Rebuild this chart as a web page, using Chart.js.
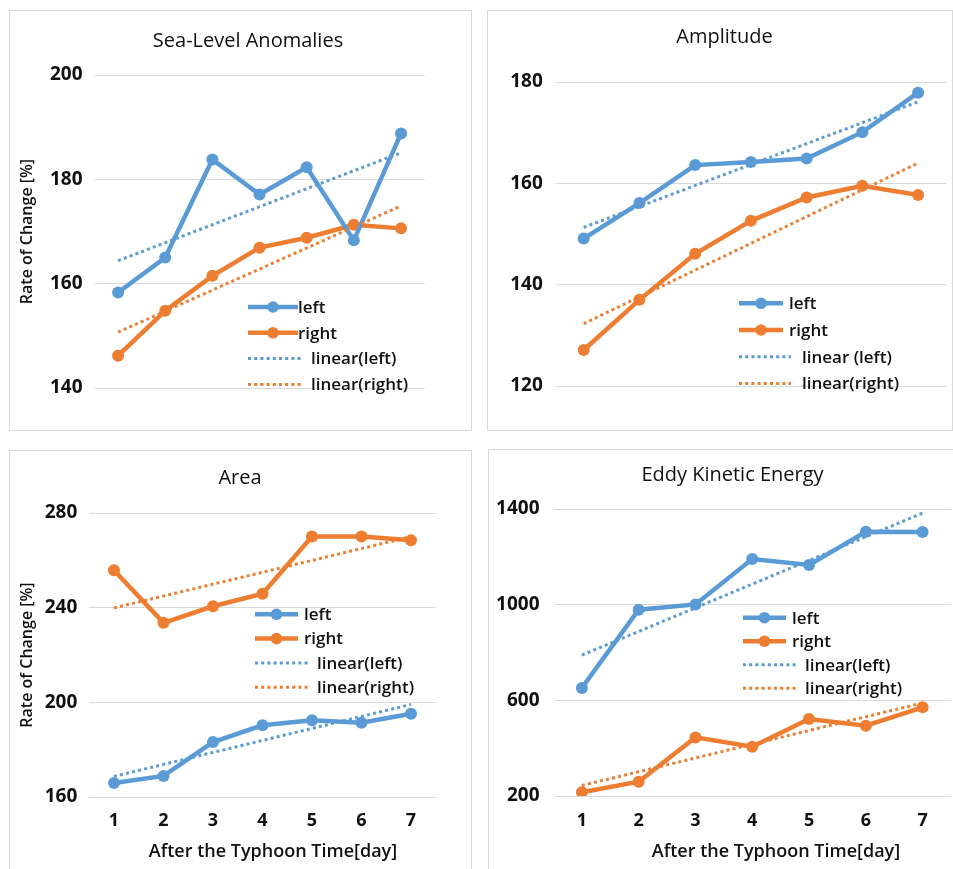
<!DOCTYPE html>
<html>
<head>
<meta charset="utf-8">
<script src="https://cdn.jsdelivr.net/npm/chart.js@4.4.1/dist/chart.umd.min.js"></script>
<style>
  html, body { margin: 0; padding: 0; background: #fff; width: 953px; height: 869px; overflow: hidden; }
  .panel { position: absolute; border: 1px solid #d9d9d9; box-sizing: border-box; background: #fff; overflow: hidden; }
  .panel canvas { position: absolute; left: 0; top: 0; }
</style>
</head>
<body>
<div class="panel" style="left:9px;top:10px;width:463px;height:421px"><canvas id="c1" width="461" height="419"></canvas></div>
<div class="panel" style="left:487px;top:10px;width:466px;height:421px"><canvas id="c2" width="464" height="419"></canvas></div>
<div class="panel" style="left:9px;top:450px;width:463px;height:425px"><canvas id="c3" width="461" height="423"></canvas></div>
<div class="panel" style="left:488px;top:449px;width:470px;height:425px"><canvas id="c4" width="468" height="423"></canvas></div>
<script>
// Days after the typhoon passage
const days = ['1', '2', '3', '4', '5', '6', '7'];

// Sea-level anomalies, rate of change [%]
const slaLeft  = [158.3, 165.0, 183.8, 177.1, 182.3, 168.3, 188.8];
const slaRight = [146.2, 154.8, 161.5, 166.9, 168.8, 171.3, 170.6];
const slaTrendLeft  = [164.4, 185.1];   // linear fit at day 1 and day 7
const slaTrendRight = [150.7, 174.9];
const slaTicks = [140, 160, 180, 200];

// Amplitude
const ampLeft  = [149.1, 156.1, 163.6, 164.2, 164.9, 170.1, 177.9];
const ampRight = [127.1, 137.0, 146.1, 152.6, 157.2, 159.5, 157.7];
const ampTrendLeft  = [151.3, 176.1];
const ampTrendRight = [132.3, 164.0];
const ampTicks = [120, 140, 160, 180];

// Area
const areaLeft  = [165.9, 168.9, 183.2, 190.3, 192.4, 191.4, 195.2];
const areaRight = [255.8, 233.6, 240.6, 245.9, 270.1, 270.1, 268.5];
const areaTrendLeft  = [168.7, 199.1];
const areaTrendRight = [239.9, 270.0];
const areaTicks = [160, 200, 240, 280];

// Eddy kinetic energy
const ekeLeft  = [652, 979, 1001, 1191, 1166, 1305, 1304];
const ekeRight = [216, 260, 445, 406, 522, 494, 571];
const ekeTrendLeft  = [789, 1383];
const ekeTrendRight = [244, 589];
const ekeTicks = [200, 600, 1000, 1400];

const legendNames  = ['left', 'right', 'linear(left)', 'linear(right)'];
const legendNamesB = ['left', 'right', 'linear (left)', 'linear(right)'];
const yAxisTitle = 'Rate of Change [%]';
const xAxisTitle = 'After the Typhoon Time[day]';

const BLUE = '#5b9bd5';
const ORANGE = '#ed7d31';
const GRID = '#d9d9d9';
const INK = '#111111';
const FONT = "'Open Sans', 'Noto Sans', sans-serif";

// Panel title, x-axis caption and the in-plot legend
const panelDecor = {
  id: 'panelDecor',
  afterDraw(chart, args, o) {
    const ctx = chart.ctx;
    ctx.save();
    ctx.fillStyle = INK;
    ctx.textBaseline = 'middle';
    ctx.textAlign = 'center';
    ctx.font = `500 20px ${FONT}`;
    ctx.fillText(o.title, o.titleX, o.titleY);
    if (o.xTitle) {
      ctx.font = `600 18px ${FONT}`;
      ctx.fillText(o.xTitle, o.xTitleX, o.xTitleY);
    }
    const L = o.legend;
    ctx.font = `600 17px ${FONT}`;
    ctx.textAlign = 'left';
    chart.data.datasets.forEach((ds, i) => {
      const y = L.y + i * L.gap;
      const dotted = ds.borderDash && ds.borderDash.length;
      ctx.strokeStyle = ds.borderColor;
      ctx.lineWidth = ds.borderWidth;
      ctx.setLineDash(dotted ? ds.borderDash : []);
      ctx.beginPath();
      ctx.moveTo(L.x, y);
      ctx.lineTo(L.x + (dotted ? L.dotW : L.solidW), y);
      ctx.stroke();
      ctx.setLineDash([]);
      if (!dotted) {
        ctx.fillStyle = ds.borderColor;
        ctx.beginPath();
        ctx.arc(L.x + L.solidW / 2, y, 5.8, 0, Math.PI * 2);
        ctx.fill();
      }
      ctx.fillStyle = INK;
      ctx.fillText(ds.label, L.x + (dotted ? L.dotText : L.solidText), y + 1);
    });
    ctx.restore();
  }
};

function trendPoints(ends) {
  return [{ x: days[0], y: ends[0] }, { x: days[days.length - 1], y: ends[1] }];
}

function buildChart(id, p) {
  const solid = { borderWidth: 4.5, pointRadius: 6, pointHoverRadius: 6, pointBorderWidth: 0, tension: 0, order: 1 };
  const dots = { borderWidth: 3, borderDash: [3, 3.2], pointRadius: 0, tension: 0, order: 0, fill: false };
  const datasets = [
    { label: p.names[0], data: p.left, borderColor: BLUE, backgroundColor: BLUE, pointBackgroundColor: BLUE, ...solid },
    { label: p.names[1], data: p.right, borderColor: ORANGE, backgroundColor: ORANGE, pointBackgroundColor: ORANGE, ...solid },
    { label: p.names[2], data: trendPoints(p.trendLeft), borderColor: BLUE, ...dots },
    { label: p.names[3], data: trendPoints(p.trendRight), borderColor: ORANGE, ...dots }
  ];
  new Chart(document.getElementById(id), {
    type: 'line',
    data: { labels: days, datasets },
    plugins: [panelDecor],
    options: {
      responsive: false,
      animation: false,
      events: [],
      layout: { padding: { left: 0, right: p.padR, top: p.padT, bottom: p.padB } },
      plugins: {
        legend: { display: false },
        tooltip: { enabled: false },
        title: { display: false },
        panelDecor: {
          title: p.title, titleX: p.titleX, titleY: p.titleY,
          xTitle: p.showX ? xAxisTitle : null, xTitleX: p.xTitleX, xTitleY: p.xTitleY,
          legend: p.legend
        }
      },
      scales: {
        x: {
          type: 'category',
          offset: true,
          display: p.showX,
          grid: { display: false, drawTicks: false },
          border: { display: false },
          ticks: { color: INK, padding: p.xTickPad, font: { family: FONT, size: 18, weight: '700' } },
          afterFit: s => { if (p.showX) s.height = p.xHeight; }
        },
        y: {
          min: p.ticks[0],
          max: p.ticks[p.ticks.length - 1],
          afterBuildTicks: s => { s.ticks = p.ticks.map(v => ({ value: v })); },
          afterFit: s => { s.width = p.yWidth; },
          grid: { color: GRID, lineWidth: 1, drawTicks: false },
          border: { display: false },
          ticks: {
            color: INK, padding: p.yTickPad,
            font: { family: FONT, size: 19, weight: '700' },
            callback: v => String(v)
          },
          title: {
            display: p.yTitle, text: yAxisTitle, color: INK,
            font: { family: FONT, size: 16, weight: '600' },
            padding: { top: 7.4, bottom: 0 }
          }
        }
      }
    }
  });
}

buildChart('c1', {
  title: 'Sea-Level Anomalies', titleX: 238, titleY: 30.5, names: legendNames,
  left: slaLeft, right: slaRight, trendLeft: slaTrendLeft, trendRight: slaTrendRight, ticks: slaTicks,
  padR: 46.4, padT: 64, padB: 42, yWidth: 84.5, yTickPad: 12, yTitle: true, showX: false,
  legend: { x: 238, y: 296, gap: 25.8, solidW: 50, dotW: 54, solidText: 50, dotText: 63 }
});

buildChart('c2', {
  title: 'Amplitude', titleX: 236.5, titleY: 26, names: legendNamesB,
  left: ampLeft, right: ampRight, trendLeft: ampTrendLeft, trendRight: ampTrendRight, ticks: ampTicks,
  padR: 1.8, padT: 71, padB: 44, yWidth: 67.8, yTickPad: 13, yTitle: false, showX: false,
  legend: { x: 251, y: 292.3, gap: 26.7, solidW: 44, dotW: 52, solidText: 50, dotText: 63 }
});

buildChart('c3', {
  title: 'Area', titleX: 230, titleY: 27, names: legendNames,
  left: areaLeft, right: areaRight, trendLeft: areaTrendLeft, trendRight: areaTrendRight, ticks: areaTicks,
  padR: 35.25, padT: 62, padB: 0, yWidth: 79.25, yTickPad: 12, yTitle: true,
  showX: true, xHeight: 77, xTickPad: 13.2, xTitleX: 263, xTitleY: 401,
  legend: { x: 245, y: 163.3, gap: 24.3, solidW: 43, dotW: 53, solidText: 49, dotText: 62 }
});

buildChart('c4', {
  title: 'Eddy Kinetic Energy', titleX: 243.5, titleY: 25, names: legendNames,
  left: ekeLeft, right: ekeRight, trendLeft: ekeTrendLeft, trendRight: ekeTrendRight, ticks: ekeTicks,
  padR: 4.2, padT: 59, padB: 0, yWidth: 64.5, yTickPad: 14, yTitle: false,
  showX: true, xHeight: 77, xTickPad: 14.2, xTitleX: 287, xTitleY: 402,
  legend: { x: 254, y: 167.7, gap: 23.5, solidW: 43, dotW: 53, solidText: 49, dotText: 62 }
});
</script>
</body>
</html>
